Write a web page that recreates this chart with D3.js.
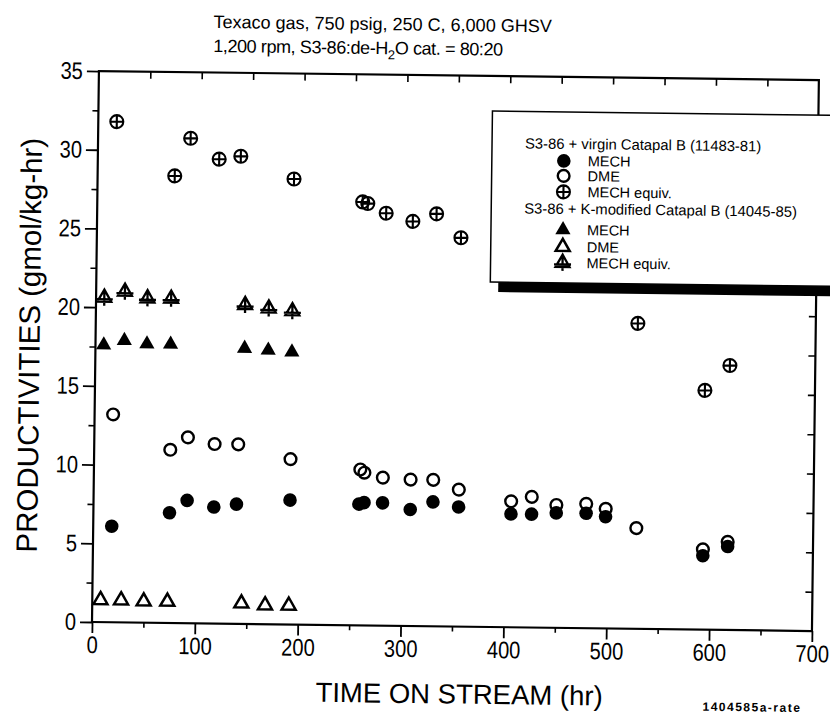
<!DOCTYPE html>
<html><head><meta charset="utf-8">
<script src="https://cdn.jsdelivr.net/npm/d3@7"></script>
<style>body{margin:0;background:#fff} svg{display:block}</style>
</head><body><svg id="c" width="830" height="717"></svg>
<script>
// ---- data ----
const titleLine1 = "Texaco gas, 750 psig, 250 C, 6,000 GHSV";
const xLabel = "TIME ON STREAM (hr)";
const yLabel = "PRODUCTIVITIES (gmol/kg-hr)";
const xTickValues = [0, 100, 200, 300, 400, 500, 600, 700];
const yTickValues = [0, 5, 10, 15, 20, 25, 30, 35];

// S3-86 + virgin Catapal B (11483-81)
const virginMechTime = [18, 74, 91, 117, 139, 191, 258, 263, 281, 308, 330, 355, 406, 426, 450, 479, 498, 593, 617];
const virginMech     = [6.1, 7.0, 7.8, 7.4, 7.6, 7.9, 7.7, 7.8, 7.8, 7.4, 7.9, 7.6, 7.2, 7.2, 7.3, 7.3, 7.1, 4.7, 5.3];
const virginDmeTime  = [18, 74, 91, 117, 140, 191, 259, 263, 281, 308, 330, 355, 406, 426, 450, 479, 498, 528, 593, 617];
const virginDme      = [13.2, 11.0, 11.8, 11.4, 11.4, 10.5, 9.9, 9.7, 9.4, 9.3, 9.3, 8.7, 8.0, 8.3, 7.8, 7.9, 7.6, 6.4, 5.1, 5.6];
const virginEqTime   = [18, 75, 90, 118, 139, 191, 258, 263, 281, 307, 330, 354, 527, 593, 617];
const virginEq       = [31.8, 28.4, 30.8, 29.5, 29.7, 28.3, 26.9, 26.8, 26.2, 25.7, 26.2, 24.7, 19.4, 15.2, 16.8];

// S3-86 + K-modified Catapal B (14045-85)
const kmodTime = [8, 28, 50, 73, 145, 168, 191];
const kmodMech = [17.6, 17.9, 17.7, 17.7, 17.5, 17.4, 17.3];
const kmodDme  = [1.4, 1.4, 1.35, 1.35, 1.3, 1.2, 1.2];
const kmodEq   = [20.6, 21.0, 20.6, 20.6, 20.25, 20.05, 19.9];

const legendHeaders = ["S3-86 + virgin Catapal B (11483-81)", "S3-86 + K-modified Catapal B (14045-85)"];
const legendLabels = ["MECH", "DME", "MECH equiv."];

// ---- drawing ----
const svg = d3.select("#c");
svg.append("rect").attr("width", 830).attr("height", 717).attr("fill", "#fff");
const L = 92, R = 812, T = 71, B = 622;
const g = svg.append("g").attr("transform", `rotate(0.72,${L},${B})`);
const x = d3.scaleLinear().domain([0, 700]).range([L, R]);
const y = d3.scaleLinear().domain([0, 35]).range([B, T]);
const tf = "'Liberation Sans',Arial,sans-serif";
const narrow = 0.84;

function style(ax, sw) {
  ax.select(".domain").remove();
  ax.selectAll(".tick line").attr("stroke", "#000").attr("stroke-width", sw);
}
const minorX = d3.range(50, 700, 100);
const minorY = d3.range(2.5, 35, 5);

// bottom axis
g.append("g").attr("transform", `translate(0,${B})`)
  .call(d3.axisBottom(x).tickValues(xTickValues).tickSize(11).tickPadding(3).tickFormat(d3.format("d")))
  .call(a => style(a, 1.8))
  .call(a => a.selectAll("text").attr("font-family", tf).attr("font-size", 24).attr("fill", "#000")
    .attr("transform", `scale(${narrow},1)`));
g.append("g").attr("transform", `translate(0,${B})`)
  .call(d3.axisBottom(x).tickValues(minorX).tickSize(5).tickFormat(""))
  .call(a => style(a, 1.6));
// left axis
g.append("g").attr("transform", `translate(${L},0)`)
  .call(d3.axisLeft(y).tickValues(yTickValues).tickSize(12).tickPadding(4).tickFormat(d3.format("d")))
  .call(a => style(a, 1.8))
  .call(a => a.selectAll("text").attr("font-family", tf).attr("font-size", 24).attr("fill", "#000")
    .attr("x", -16 / narrow).attr("transform", `scale(${narrow},1)`));
g.append("g").attr("transform", `translate(${L},0)`)
  .call(d3.axisLeft(y).tickValues(minorY).tickSize(6).tickFormat(""))
  .call(a => style(a, 1.6));
// top axis (inward ticks)
g.append("g").attr("transform", `translate(0,${T})`)
  .call(d3.axisBottom(x).tickValues(d3.range(50, 700, 50)).tickSize(7).tickFormat(""))
  .call(a => style(a, 1.6));
// right axis (inward ticks)
g.append("g").attr("transform", `translate(${R},0)`)
  .call(d3.axisLeft(y).tickValues(d3.range(2.5, 35, 2.5)).tickSize(7).tickFormat(""))
  .call(a => style(a, 1.6));
// frame
g.append("rect").attr("x", L).attr("y", T).attr("width", R - L).attr("height", B - T)
  .attr("fill", "none").attr("stroke", "#000").attr("stroke-width", 2.2);

// symbols
function circlePlus(r) { const p = d3.path(); p.moveTo(r, 0); p.arc(0, 0, r, 0, 2 * Math.PI);
  p.moveTo(-r, 0); p.lineTo(r, 0); p.moveTo(0, -r); p.lineTo(0, r); return p.toString(); }
function trianglePlus() { const p = d3.path(); p.moveTo(0, -8.2); p.lineTo(-7, 4); p.lineTo(7, 4); p.closePath();
  p.moveTo(-8.5, 1.5); p.lineTo(8.5, 1.5); p.moveTo(0, -8.2); p.lineTo(0, 8); return p.toString(); }
const symDefs = {
  mech:   {d: d3.symbol(d3.symbolCircle, 145)(), fill: "#000", sw: 0},
  dme:    {d: d3.symbol(d3.symbolCircle, 108)(), fill: "none", sw: 2.4},
  eq:     {d: circlePlus(6.5), fill: "none", sw: 2.1},
  kmech:  {d: d3.symbol(d3.symbolTriangle, 100)(), fill: "#000", sw: 0},
  kdme:   {d: d3.symbol(d3.symbolTriangle, 85)(), fill: "none", sw: 2.5},
  keq:    {d: trianglePlus(), fill: "none", sw: 2.3}
};
function plot(key, xs, ys) {
  const s = symDefs[key];
  g.append("g").selectAll("path").data(d3.zip(xs, ys)).join("path")
    .attr("transform", d => `translate(${x(d[0])},${y(d[1])})`)
    .attr("d", s.d).attr("fill", s.fill).attr("stroke", "#000").attr("stroke-width", s.sw);
}
plot("eq", virginEqTime, virginEq);
plot("dme", virginDmeTime, virginDme);
plot("mech", virginMechTime, virginMech);
plot("keq", kmodTime, kmodEq);
plot("kmech", kmodTime, kmodMech);
plot("kdme", kmodTime, kmodDme);

// legend
const lg = g.append("g");
lg.append("rect").attr("x", 494).attr("y", 114).attr("width", 420).attr("height", 173).attr("fill", "#000");
lg.append("rect").attr("x", 486).attr("y", 106).attr("width", 420).attr("height", 171)
  .attr("fill", "#fff").attr("stroke", "#000").attr("stroke-width", 1.5);
const hdrY = [143, 208];
legendHeaders.forEach((t, i) => lg.append("text").attr("x", 519).attr("y", hdrY[i])
  .attr("font-family", tf).attr("font-size", 14.8).text(t));
const rowKeys = [["mech", "dme", "eq"], ["kmech", "kdme", "keq"]];
const rowY = [[155, 170, 186], [224, 241, 257]];
rowKeys.forEach((ks, i) => ks.forEach((k, j) => {
  const s = symDefs[k];
  lg.append("path").attr("transform", `translate(558,${rowY[i][j]})`).attr("d", s.d)
    .attr("fill", s.fill).attr("stroke", "#000").attr("stroke-width", s.sw);
  lg.append("text").attr("x", 582).attr("y", rowY[i][j] + 5)
    .attr("font-family", tf).attr("font-size", 14.5).text(legendLabels[j]);
}));

// titles
g.append("text").attr("x", 206).attr("y", 26.5).attr("font-family", tf).attr("font-size", 18).text(titleLine1);
const t2 = g.append("text").attr("x", 206).attr("y", 50.5).attr("font-family", tf).attr("font-size", 18)
  .attr("letter-spacing", -0.4);
t2.append("tspan").text("1,200 rpm, S3-86:de-H");
t2.append("tspan").attr("font-size", 13).attr("dy", 5).text("2");
t2.append("tspan").attr("dy", -5).text("O cat. = 80:20");

g.append("text").attr("x", 460).attr("y", 699).attr("text-anchor", "middle")
  .attr("font-family", tf).attr("font-size", 27.5).text(xLabel);
g.append("text").attr("transform", "translate(36,346) rotate(-90)").attr("text-anchor", "middle")
  .attr("font-family", tf).attr("font-size", 29.5).text(yLabel);
g.append("text").attr("x", 753).attr("y", 703).attr("text-anchor", "middle")
  .attr("font-family", tf).attr("font-weight", "bold").attr("font-size", 12).attr("letter-spacing", 1.5)
  .text("1404585a-rate");
</script></body></html>
